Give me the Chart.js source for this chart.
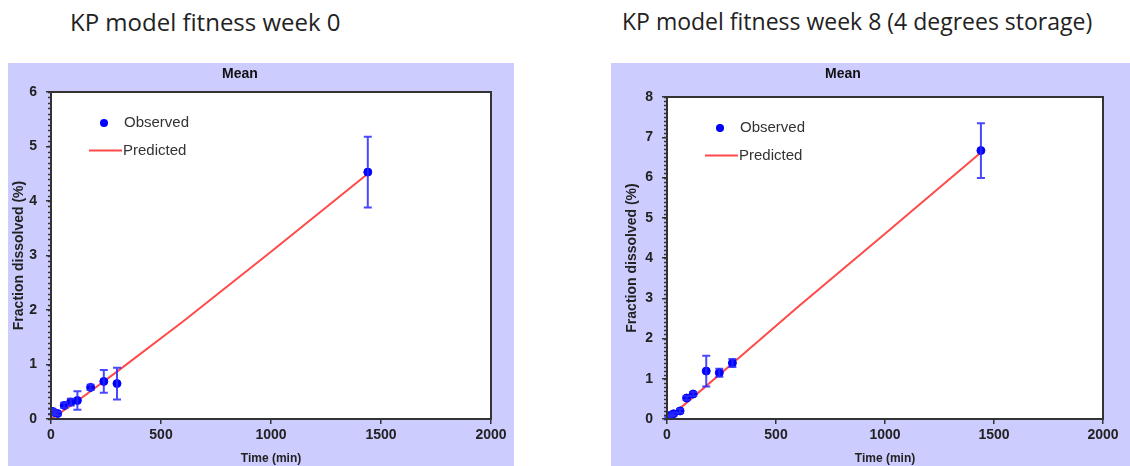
<!DOCTYPE html>
<html lang="en">
<head>
<meta charset="UTF-8">
<title>KP model fitness</title>
<script src="https://cdn.jsdelivr.net/npm/chart.js"></script>
<style>
    body { margin: 0; background: #fff; width: 1130px; height: 466px; position: relative; overflow: hidden; font-family: "Open Sans", sans-serif; }
    .title { position: absolute; top: 5px; color: #222; white-space: nowrap; }
    .panel { position: absolute; top: 63px; height: 403px; background: #ccccff; }
</style>
</head>
<body>
<div class="title" style="left:70px;font-size:24px">KP model fitness week 0</div>
<div class="title" style="left:622px;font-size:23px">KP model fitness week 8 (4 degrees storage)</div>
<div class="panel" style="left:8px;width:506px"><canvas id="week0"></canvas></div>
<div class="panel" style="left:611px;width:519px"><canvas id="week8"></canvas></div>

<script>
    // data
    const obsTimes = [5, 15, 30, 60, 90, 120, 180, 240, 300, 1440];
    const week0Obs = [0.14, 0.12, 0.10, 0.25, 0.31, 0.34, 0.58, 0.69, 0.65, 4.53];
    const week0Sd = [0.05, 0.04, 0.03, 0.05, 0.06, 0.17, 0.05, 0.21, 0.29, 0.65];
    const week8Obs = [0.05, 0.09, 0.13, 0.20, 0.52, 0.62, 1.19, 1.15, 1.39, 6.67];
    const week8Sd = [0.03, 0.03, 0.04, 0.05, 0.05, 0.05, 0.38, 0.10, 0.10, 0.68];
    const predTimes = [0, 100, 300, 600, 1000, 1440];
    const week0Pred = [0, 0.27, 0.87, 1.79, 3.07, 4.50];
    const week8Pred = [0, 0.45, 1.38, 2.78, 4.60, 6.62];
    const xTicks = [0, 500, 1000, 1500, 2000];

    const axisColor = '#333';
    const fontFamily = '"Liberation Sans", Arial, sans-serif';
    const boldFont = { family: fontFamily, weight: 'bold' };

    // white plot area + frame
    const plotFrame = {
        id: 'plotFrame',
        beforeDraw(chart) {
            const a = chart.chartArea, ctx = chart.ctx;
            ctx.save();
            ctx.fillStyle = '#fff';
            ctx.fillRect(a.left, a.top, a.right - a.left, a.bottom - a.top);
            ctx.restore();
        },
        afterDraw(chart) {
            const a = chart.chartArea, ctx = chart.ctx;
            ctx.save();
            ctx.strokeStyle = axisColor;
            ctx.lineWidth = 2;
            ctx.strokeRect(a.left, a.top, a.right - a.left, a.bottom - a.top);
            // minor ticks on y axis
            const y = chart.scales.y;
            ctx.lineWidth = 1.5;
            for (let k = 0; k <= y.max * 10; k++) {
                const py = Math.round(y.getPixelForValue(k / 10)) + 0.5;
                ctx.beginPath();
                ctx.moveTo(a.left - 3, py);
                ctx.lineTo(a.left, py);
                ctx.stroke();
            }
            // "Mean" heading
            ctx.fillStyle = '#111';
            ctx.font = 'bold 14px ' + fontFamily;
            ctx.textAlign = 'center';
            ctx.textBaseline = 'middle';
            ctx.fillText('Mean', 232, 11);
            // legend inside plot
            const lx = a.left, ly = a.top;
            ctx.fillStyle = '#0000ff';
            ctx.beginPath();
            ctx.arc(lx + 53, ly + 31, 4, 0, Math.PI * 2);
            ctx.fill();
            ctx.strokeStyle = '#ff4a4a';
            ctx.lineWidth = 2;
            ctx.beginPath();
            ctx.moveTo(lx + 38, ly + 58.5);
            ctx.lineTo(lx + 71, ly + 58.5);
            ctx.stroke();
            ctx.fillStyle = '#333';
            ctx.font = '15px ' + fontFamily;
            ctx.textAlign = 'left';
            ctx.fillText('Observed', lx + 73, ly + 31);
            ctx.fillText('Predicted', lx + 72, ly + 59);
            ctx.restore();
        }
    };

    // vertical error bars for observed means
    const errorBars = {
        id: 'errorBars',
        afterDatasetsDraw(chart) {
            const ds = chart.data.datasets[0];
            const meta = chart.getDatasetMeta(0);
            const y = chart.scales.y, ctx = chart.ctx;
            ctx.save();
            ctx.strokeStyle = 'rgba(40, 40, 255, 0.85)';
            ctx.lineWidth = 2;
            meta.data.forEach((pt, i) => {
                const v = ds.data[i].y, s = ds.sd[i];
                const top = y.getPixelForValue(v + s), bot = y.getPixelForValue(v - s);
                ctx.beginPath();
                ctx.moveTo(pt.x, top); ctx.lineTo(pt.x, bot);
                ctx.moveTo(pt.x - 4, top); ctx.lineTo(pt.x + 4, top);
                ctx.moveTo(pt.x - 4, bot); ctx.lineTo(pt.x + 4, bot);
                ctx.stroke();
            });
            ctx.restore();
        }
    };

    function makeChart(id, obs, sd, pred, yMax, pad, yWidth) {
        return new Chart(document.getElementById(id), {
            type: 'scatter',
            data: {
                datasets: [
                    { label: 'Observed', data: obsTimes.map((t, i) => ({ x: t, y: obs[i] })), sd: sd,
                      backgroundColor: '#0000ff', borderColor: '#0000ff', pointRadius: 4, order: 0 },
                    { label: 'Predicted', data: predTimes.map((t, i) => ({ x: t, y: pred[i] })), showLine: true,
                      borderColor: '#ff4a4a', borderWidth: 2, pointRadius: 0, order: 1 }
                ]
            },
            options: {
                responsive: true,
                maintainAspectRatio: false,
                animation: false,
                layout: { padding: pad },
                plugins: { legend: { display: false }, tooltip: { enabled: false } },
                scales: {
                    x: {
                        type: 'linear', min: 0, max: 2000,
                        afterBuildTicks: s => { s.ticks = xTicks.map(v => ({ value: v })); },
                        afterFit: s => { s.height = 47; },
                        grid: { display: true, drawOnChartArea: false, drawTicks: true, tickLength: 5, color: axisColor, lineWidth: 1.5 },
                        border: { display: true, color: axisColor, width: 2 },
                        ticks: { color: '#222', padding: 3, callback: v => String(v), font: { ...boldFont, size: 14 } },
                        title: { display: true, text: 'Time (min)', color: '#222', padding: { top: 0, bottom: 0 }, font: { ...boldFont, size: 12 } }
                    },
                    y: {
                        type: 'linear', min: 0, max: yMax,
                        afterFit: s => { s.width = yWidth; },
                        grid: { display: true, drawOnChartArea: false, drawTicks: true, tickLength: 5, color: axisColor, lineWidth: 1.5 },
                        border: { display: true, color: axisColor, width: 2 },
                        ticks: { stepSize: 1, color: '#222', padding: 9, font: { ...boldFont, size: 14 } },
                        title: { display: true, text: 'Fraction dissolved (%)', color: '#222', padding: { top: 1, bottom: 0 }, font: { ...boldFont, size: 14 } }
                    }
                }
            },
            plugins: [plotFrame, errorBars]
        });
    }

    makeChart('week0', week0Obs, week0Sd, week0Pred, 6, { left: 2, top: 29, right: 23, bottom: 0 }, 41);
    makeChart('week8', week8Obs, week8Sd, week8Pred, 8, { left: 12, top: 34, right: 27, bottom: 0 }, 44);
</script>
</body>
</html>
